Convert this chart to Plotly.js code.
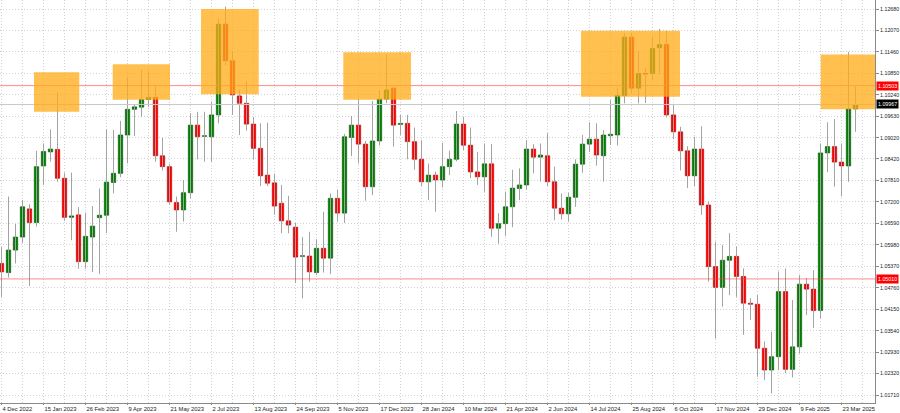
<!DOCTYPE html>
<html><head><meta charset="utf-8">
<script src="https://cdn.plot.ly/plotly-3.0.1.min.js"></script>
<style>html,body{margin:0;padding:0;background:#fff}#chart{width:900px;height:413px}</style>
</head><body><div id="chart"></div>
<script>
// Weekly candles (week start dates)
const weeks = [
'2022-12-04','2022-12-11','2022-12-18','2022-12-25',
'2023-01-01','2023-01-08','2023-01-15','2023-01-22','2023-01-29',
'2023-02-05','2023-02-12','2023-02-19','2023-02-26',
'2023-03-05','2023-03-12','2023-03-19','2023-03-26',
'2023-04-02','2023-04-09','2023-04-16','2023-04-23','2023-04-30',
'2023-05-07','2023-05-14','2023-05-21','2023-05-28',
'2023-06-04','2023-06-11','2023-06-18','2023-06-25',
'2023-07-02','2023-07-09','2023-07-16','2023-07-23','2023-07-30',
'2023-08-06','2023-08-13','2023-08-20','2023-08-27',
'2023-09-03','2023-09-10','2023-09-17','2023-09-24',
'2023-10-01','2023-10-08','2023-10-15','2023-10-22','2023-10-29',
'2023-11-05','2023-11-12','2023-11-19','2023-11-26',
'2023-12-03','2023-12-10','2023-12-17','2023-12-24','2023-12-31',
'2024-01-07','2024-01-14','2024-01-21','2024-01-28',
'2024-02-04','2024-02-11','2024-02-18','2024-02-25',
'2024-03-03','2024-03-10','2024-03-17','2024-03-24','2024-03-31',
'2024-04-07','2024-04-14','2024-04-21','2024-04-28',
'2024-05-05','2024-05-12','2024-05-19','2024-05-26',
'2024-06-02','2024-06-09','2024-06-16','2024-06-23','2024-06-30',
'2024-07-07','2024-07-14','2024-07-21','2024-07-28',
'2024-08-04','2024-08-11','2024-08-18','2024-08-25',
'2024-09-01','2024-09-08','2024-09-15','2024-09-22','2024-09-29',
'2024-10-06','2024-10-13','2024-10-20','2024-10-27',
'2024-11-03','2024-11-10','2024-11-17','2024-11-24',
'2024-12-01','2024-12-08','2024-12-15','2024-12-22','2024-12-29',
'2025-01-05','2025-01-12','2025-01-19','2025-01-26',
'2025-02-02','2025-02-09','2025-02-16','2025-02-23',
'2025-03-02','2025-03-09','2025-03-16','2025-03-23','2025-03-30',
'2025-04-06'];

const openP = [
1.0545,1.0519,1.0583,1.0620,1.0700,1.0661,1.0822,1.0862,1.0869,1.0787,
1.0676,1.0683,1.0550,1.0620,1.0675,1.0682,1.0775,1.0801,1.0910,1.0983,
1.0989,1.1011,1.1017,1.0851,1.0820,1.0718,1.0697,1.0746,1.0938,1.0906,
1.0905,1.0967,1.1225,1.1121,1.1021,1.1000,1.0941,1.0872,1.0796,1.0774,
1.0716,1.0666,1.0648,1.0565,1.0566,1.0519,1.0588,1.0560,1.0730,1.0688,
1.0903,1.0938,1.0884,1.0763,1.0893,1.1012,1.1043,1.0940,1.0943,1.0891,
1.0841,1.0777,1.0796,1.0782,1.0820,1.0841,1.0941,1.0881,1.0805,1.0791,
1.0828,1.0645,1.0658,1.0706,1.0758,1.0768,1.0870,1.0847,1.0851,1.0777,
1.0702,1.0686,1.0733,1.0827,1.0884,1.0898,1.0851,1.0908,1.0910,1.1022,
1.1188,1.1043,1.1085,1.1085,1.1158,1.1167,1.0967,1.0919,1.0865,1.0794,
1.0870,1.0711,1.0536,1.0477,1.0554,1.0565,1.0508,1.0432,1.0429,1.0304,
1.0242,1.0280,1.0465,1.0244,1.0308,1.0486,1.0472,1.0411,1.0859,1.0877,
1.0833,1.0822,1.0984];

const highP = [
1.0592,1.0735,1.0657,1.0725,1.0713,1.0865,1.0886,1.0926,1.1031,1.0803,
1.0803,1.0705,1.0690,1.0708,1.0758,1.0926,1.0924,1.0950,1.1074,1.0998,
1.1095,1.1092,1.1049,1.0902,1.0827,1.0735,1.0782,1.0972,1.0976,1.0976,
1.1005,1.1241,1.1275,1.1149,1.1038,1.1063,1.0960,1.0943,1.0945,1.0800,
1.0768,1.0737,1.0660,1.0620,1.0635,1.0614,1.0692,1.0744,1.0754,1.0913,
1.0964,1.1014,1.0893,1.1007,1.1038,1.1139,1.1046,1.0967,1.0967,1.0931,
1.0895,1.0829,1.0806,1.0888,1.0865,1.0978,1.0962,1.0931,1.0862,1.0886,
1.0884,1.0688,1.0749,1.0811,1.0815,1.0896,1.0884,1.0886,1.0915,1.0820,
1.0744,1.0746,1.0841,1.0910,1.0946,1.0943,1.0924,1.1009,1.1045,1.1199,
1.1201,1.1147,1.1100,1.1188,1.1211,1.1206,1.0995,1.0933,1.0878,1.0905,
1.0935,1.0720,1.0607,1.0597,1.0631,1.0593,1.0531,1.0446,1.0455,1.0323,
1.0351,1.0522,1.0531,1.0441,1.0512,1.0503,1.0526,1.0886,1.0946,1.0955,
1.0886,1.1146,1.1049];

const lowP = [
1.0450,1.0505,1.0545,1.0604,1.0481,1.0650,1.0768,1.0834,1.0777,1.0666,
1.0611,1.0530,1.0530,1.0521,1.0515,1.0631,1.0744,1.0790,1.0829,1.0907,
1.0962,1.0990,1.0834,1.0809,1.0712,1.0635,1.0664,1.0730,1.0841,1.0834,
1.0834,1.0943,1.1109,1.0967,1.0910,1.0922,1.0841,1.0765,1.0765,1.0683,
1.0631,1.0631,1.0489,1.0446,1.0493,1.0512,1.0519,1.0515,1.0664,1.0660,
1.0850,1.0829,1.0723,1.0739,1.0880,1.1000,1.0877,1.0910,1.0841,1.0811,
1.0765,1.0725,1.0692,1.0761,1.0796,1.0835,1.0867,1.0787,1.0768,1.0749,
1.0621,1.0601,1.0623,1.0648,1.0725,1.0754,1.0801,1.0777,1.0765,1.0668,
1.0670,1.0664,1.0706,1.0803,1.0862,1.0823,1.0777,1.0881,1.0880,1.1000,
1.1030,1.1000,1.1001,1.1066,1.1083,1.0960,1.0898,1.0809,1.0759,1.0765,
1.0683,1.0493,1.0332,1.0422,1.0455,1.0450,1.0342,1.0384,1.0223,1.0214,
1.0176,1.0242,1.0233,1.0221,1.0289,1.0398,1.0361,1.0389,1.0804,1.0763,
1.0735,1.0777,1.0919];

const closeP = [
1.0521,1.0583,1.0620,1.0706,1.0661,1.0820,1.0863,1.0870,1.0787,1.0676,
1.0680,1.0550,1.0622,1.0651,1.0682,1.0776,1.0801,1.0910,1.0983,1.0990,
1.1011,1.1017,1.0851,1.0820,1.0720,1.0697,1.0746,1.0938,1.0905,1.0908,
1.0967,1.1225,1.1121,1.1024,1.1000,1.0941,1.0872,1.0794,1.0773,1.0708,
1.0666,1.0654,1.0563,1.0567,1.0521,1.0588,1.0560,1.0730,1.0688,1.0905,
1.0938,1.0884,1.0763,1.0893,1.1012,1.1038,1.0938,1.0943,1.0891,1.0841,
1.0777,1.0796,1.0782,1.0820,1.0841,1.0941,1.0881,1.0805,1.0791,1.0828,
1.0645,1.0658,1.0706,1.0759,1.0768,1.0870,1.0847,1.0853,1.0777,1.0702,
1.0686,1.0733,1.0827,1.0884,1.0898,1.0853,1.0910,1.0912,1.1022,1.1188,
1.1043,1.1085,1.1083,1.1156,1.1167,1.0967,1.0919,1.0865,1.0794,1.0870,
1.0711,1.0536,1.0477,1.0554,1.0565,1.0508,1.0432,1.0429,1.0304,1.0242,
1.0280,1.0465,1.0244,1.0308,1.0486,1.0472,1.0411,1.0859,1.0877,1.0833,
1.0822,1.0984,1.0997];

// Axis tick labels
const priceTicks = [1.12680,1.12070,1.11460,1.10850,1.10240,1.09630,1.09020,1.08420,1.07810,1.07200,
                    1.06590,1.05980,1.05370,1.04760,1.04150,1.03540,1.02930,1.02320,1.01710];
const dateTicks = ['2022-12-04','2023-01-15','2023-02-26','2023-04-09','2023-05-21','2023-07-02','2023-08-13',
                   '2023-09-24','2023-11-05','2023-12-17','2024-01-28','2024-03-10','2024-04-21','2024-06-02',
                   '2024-07-14','2024-08-25','2024-10-06','2024-11-17','2024-12-29','2025-02-09','2025-03-23'];
const dateLabels = ['4 Dec 2022','15 Jan 2023','26 Feb 2023','9 Apr 2023','21 May 2023','2 Jul 2023','13 Aug 2023',
                    '24 Sep 2023','5 Nov 2023','17 Dec 2023','28 Jan 2024','10 Mar 2024','21 Apr 2024','2 Jun 2024',
                    '14 Jul 2024','25 Aug 2024','6 Oct 2024','17 Nov 2024','29 Dec 2024','9 Feb 2025','23 Mar 2025'];

// Highlighted resistance zones: [start, end, low, high]
const zoneStart = ['2023-01-05 12:00','2023-03-25 05:00','2023-06-21 12:00','2023-11-10 19:00','2024-07-05 12:00','2025-03-02 05:00'];
const zoneEnd   = ['2023-02-19 19:00','2023-05-21 12:00','2023-08-18 05:00','2024-01-17 12:00','2024-10-12 12:00','2025-04-25 12:00'];
const zoneLow   = [1.0976,1.1010,1.1026,1.1010,1.1019,1.0983];
const zoneHigh  = [1.1088,1.1111,1.1268,1.1145,1.1206,1.1139];

// Horizontal levels
const redLevels = [1.10503, 1.05010];
const lastPrice = 1.09967;

const DAY = 86400000;
const wickX = [], wickY = [];
weeks.forEach((d, i) => { wickX.push(d, d, null); wickY.push(highP[i], lowP[i], null); });
const bodyBase = openP.map((o, i) => Math.min(o, closeP[i]));
const bodySize = openP.map((o, i) => Math.max(Math.abs(closeP[i] - o), 0.00012));
const bodyColor = openP.map((o, i) => closeP[i] > o ? '#008000' : (closeP[i] < o ? '#ff0000' : '#333333'));
const bodyLine = openP.map((o, i) => closeP[i] > o ? '#005500' : (closeP[i] < o ? '#b00000' : '#333333'));

const traces = [
  {type:'scatter', mode:'lines', x:wickX, y:wickY, line:{color:'#a3a3a3', width:1}, hoverinfo:'skip', connectgaps:false},
  {type:'bar', x:weeks, y:bodySize, base:bodyBase, width:4.4*DAY,
   marker:{color:bodyColor, line:{color:bodyLine, width:0.6}}, hoverinfo:'skip'}
];

const shapes = [];
shapes.push({type:'line', xref:'paper', x0:0, x1:1, yref:'y', y0:lastPrice, y1:lastPrice,
             line:{color:'#c8c8c8', width:1}, layer:'above'});
redLevels.forEach(v => shapes.push({type:'line', xref:'paper', x0:0, x1:1, yref:'y', y0:v, y1:v,
             line:{color:'rgba(255,60,60,0.6)', width:1}, layer:'above'}));
zoneStart.forEach((s, i) => shapes.push({type:'rect', xref:'x', yref:'y', x0:s, x1:zoneEnd[i], y0:zoneLow[i], y1:zoneHigh[i],
             fillcolor:'rgba(255,172,25,0.76)', line:{width:0}, layer:'above'}));

const badge = (v, bg) => ({xref:'paper', x:1, xanchor:'left', xshift:1, yref:'y', y:v, yanchor:'middle',
   text:v.toFixed(5), showarrow:false, bgcolor:bg, font:{family:'Liberation Sans, Arial, sans-serif', size:5.3, color:'#ffffff'},
   borderpad:1});
const annotations = [badge(redLevels[0], '#ff0000'), badge(lastPrice, '#000000'), badge(redLevels[1], '#ff0000')];

const gridDash = '1px,2px';
const layout = {
  width:900, height:413,
  margin:{l:0, r:25, t:0, b:10, pad:0},
  paper_bgcolor:'#ffffff', plot_bgcolor:'#ffffff',
  showlegend:false, barmode:'overlay', bargap:0,
  font:{family:'Liberation Sans, Arial, sans-serif', size:5.5, color:'#222'},
  xaxis:{type:'date', range:['2022-12-02 12:00','2025-04-25 12:00'],
    tickmode:'array', tickvals:dateTicks, ticktext:dateLabels, ticklabelposition:'outside right',
    tickangle:0, automargin:false,
    tickfont:{size:5.8, color:'#222'}, ticks:'outside', ticklen:1, tickcolor:'#888',
    showgrid:true, gridcolor:'#d2d2d2', griddash:gridDash, gridwidth:1,
    minor:{dtick:21*DAY, tick0:'2022-12-04', showgrid:true, gridcolor:'#d2d2d2', griddash:gridDash, ticks:''},
    showline:true, linecolor:'#8a8a8a', linewidth:1, zeroline:false, fixedrange:true},
  yaxis:{side:'right', range:[1.01484, 1.129358], automargin:false,
    tickmode:'array', tickvals:priceTicks, tickformat:'.5f',
    tickfont:{size:5.3, color:'#222'}, ticks:'outside', ticklen:3, tickcolor:'#888',
    showgrid:true, gridcolor:'#d2d2d2', griddash:gridDash, gridwidth:1,
    showline:true, mirror:true, linecolor:'#8a8a8a', linewidth:1, zeroline:false, fixedrange:true},
  shapes:shapes, annotations:annotations
};

Plotly.newPlot('chart', traces, layout, {staticPlot:true, displayModeBar:false});
</script></body></html>
